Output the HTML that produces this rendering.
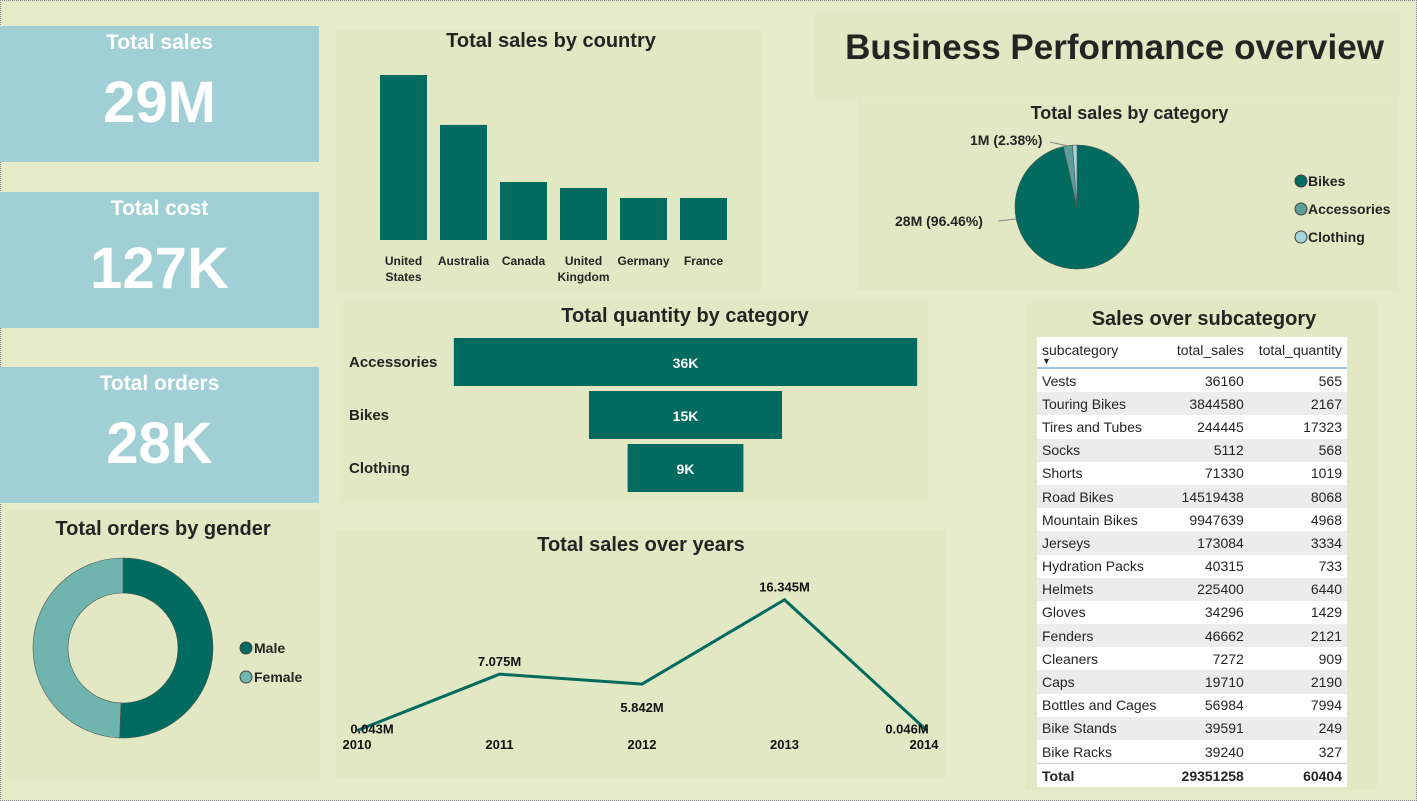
<!DOCTYPE html>
<html><head><meta charset="utf-8"><style>
body{margin:0;width:1417px;height:801px;background:#e6ebc9;font-family:"Liberation Sans",sans-serif;position:relative;overflow:hidden}
.a{position:absolute}
.panel{position:absolute;background:#e2e8c4}
.kpi{position:absolute;left:0;width:319px;height:136px;background:#a0d0d5;color:#fff;text-align:center;font-weight:bold}
.kpi .t{font-size:21px;margin-top:5px}
.kpi .v{font-size:58px;margin-top:14px}
.title{position:absolute;font-weight:bold;font-size:20px;color:#252423;text-align:center}
svg text{font-family:"Liberation Sans",sans-serif}
table{border-collapse:collapse;font-size:14px;color:#252423}
td{padding:0 5px;height:23.2px}
</style></head><body>
<div class="a" style="left:0;top:0;width:1415px;height:799px;border:1px dotted #888"></div>

<div class="kpi" style="top:26px"><div class="t">Total sales</div><div class="v">29M</div></div>
<div class="kpi" style="top:192px"><div class="t">Total cost</div><div class="v">127K</div></div>
<div class="kpi" style="top:367px"><div class="t">Total orders</div><div class="v">28K</div></div>

<div class="panel" style="left:815px;top:15px;width:585px;height:82px"></div>
<div class="a" style="left:822px;top:28px;width:585px;text-align:center;font-size:35px;font-weight:bold;color:#252423">Business Performance overview</div>

<div class="panel" style="left:336px;top:30px;width:425px;height:262px"></div>
<div class="title" style="left:336px;top:30px;width:430px">Total sales by country</div>
<svg class="a" id="country" style="left:0;top:0" width="800" height="300"></svg>

<div class="panel" style="left:857px;top:98px;width:540px;height:192px"></div>
<div class="title" style="left:857px;top:103px;width:545px;font-size:18px">Total sales by category</div>
<svg class="a" id="pie" style="left:850px;top:100px" width="560" height="200"></svg>

<div class="panel" style="left:340px;top:303px;width:588px;height:200px"></div>
<div class="title" style="left:340px;top:305px;width:690px">Total quantity by category</div>
<svg class="a" id="funnel" style="left:0;top:0" width="950" height="510"></svg>

<div class="panel" style="left:6px;top:510px;width:314px;height:270px"></div>
<div class="title" style="left:6px;top:518px;width:314px">Total orders by gender</div>
<svg class="a" id="donut" style="left:0;top:540px" width="330" height="230"></svg>

<div class="panel" style="left:336px;top:530px;width:610px;height:248px"></div>
<div class="title" style="left:336px;top:534px;width:610px">Total sales over years</div>
<svg class="a" id="line" style="left:0;top:0" width="960" height="800"></svg>

<div class="panel" style="left:1025px;top:303px;width:352px;height:487px"></div>
<div class="title" style="left:1025px;top:308px;width:358px">Sales over subcategory</div>
<div class="a" style="left:1037px;top:337px;width:310px;background:#fff">
<table id="tbl" style="width:310px"></table></div>

<script>
const NS="http://www.w3.org/2000/svg";
function mk(p,t,at,txt){const e=document.createElementNS(NS,t);for(const k in at)e.setAttribute(k,at[k]);if(txt!==undefined)e.textContent=txt;p.appendChild(e);return e;}
const teal="#006b5e";

const countries=["United States","Australia","Canada","United Kingdom","Germany","France"];
const countrySales=[9.39,6.55,3.3,2.96,2.39,2.39];
(function(){const s=document.getElementById('country');const base=240,k=17.57;
countries.forEach((c,i)=>{const x=380+i*60,h=countrySales[i]*k;
const r=mk(s,'rect',{x:x,y:base-h,width:47,height:h,fill:teal});

const w=c.split(' ');w.forEach((t,j)=>{const tx=mk(s,'text',{x:x+23.5,y:265+j*16,'text-anchor':'middle','font-size':12,'font-weight':'bold',fill:'#252423'},t);
});});})();

const pieCats=["Bikes","Accessories","Clothing"];
const pieVals=[96.46,2.38,1.16];
const pieColors=[teal,"#5e9f98","#a4d6da"];
(function(){const s=document.getElementById('pie');const cx=227,cy=107,r=62;let a=0;
const tot=pieVals.reduce((x,y)=>x+y,0);
pieVals.forEach((v,i)=>{const a0=a,a1=a+v/tot*2*Math.PI;a=a1;
const p=(t)=>[cx+r*Math.sin(t),cy-r*Math.cos(t)];const A=p(a0),B=p(a1);
const el=mk(s,'path',{d:`M${cx},${cy}L${A[0]},${A[1]}A${r},${r} 0 ${a1-a0>Math.PI?1:0} 1 ${B[0]},${B[1]}Z`,fill:pieColors[i],stroke:'#555','stroke-width':0.6});
});
const l1=mk(s,'text',{x:120,y:45,'font-size':14,'font-weight':'bold',fill:'#252423'},"1M (2.38%)");
mk(s,'line',{x1:200,y1:42,x2:218,y2:46,stroke:'#888'});
const l2=mk(s,'text',{x:45,y:126,'font-size':14,'font-weight':'bold',fill:'#252423'},"28M (96.46%)");
mk(s,'line',{x1:148,y1:121,x2:166,y2:119,stroke:'#888'});
pieCats.forEach((c,i)=>{const y=81+i*28;mk(s,'circle',{cx:451,cy:y,r:6,fill:pieColors[i],stroke:'#444','stroke-width':1});
const t=mk(s,'text',{x:458,y:y+5,'font-size':14,'font-weight':'bold',fill:'#252423'},c);});})();

const funnelCats=["Accessories","Bikes","Clothing"];
const funnelVals=[36,15,9];
(function(){const s=document.getElementById('funnel');const cx=685.5,k=12.87;
funnelCats.forEach((c,i)=>{const w=funnelVals[i]*k,y=338+i*53;
const r=mk(s,'rect',{x:cx-w/2,y:y,width:w,height:48,fill:teal});
mk(s,'text',{x:cx,y:y+30,'text-anchor':'middle','font-size':14,'font-weight':'bold',fill:'#fff'},funnelVals[i]+"K");
const t=mk(s,'text',{x:349,y:y+29,'font-size':15,'font-weight':'bold',fill:'#252423'},c);});})();

const genders=["Male","Female"];
const genderVals=[50.6,49.4];
const genderColors=[teal,"#70b4b0"];
(function(){const s=document.getElementById('donut');const cx=123,cy=108,R=90,r0=55;let a=0;const tot=genderVals.reduce((x,y)=>x+y,0);
genderVals.forEach((v,i)=>{const a0=a,a1=a+v/tot*2*Math.PI;a=a1;
const p=(t,rr)=>[cx+rr*Math.sin(t),cy-rr*Math.cos(t)];const A=p(a0,R),B=p(a1,R),C=p(a1,r0),D=p(a0,r0);const lg=a1-a0>Math.PI?1:0;
const el=mk(s,'path',{d:`M${A}A${R},${R} 0 ${lg} 1 ${B}L${C}A${r0},${r0} 0 ${lg} 0 ${D}Z`,fill:genderColors[i],stroke:'#555','stroke-width':0.6});
});
genders.forEach((g,i)=>{const y=108+i*29;mk(s,'circle',{cx:246,cy:y,r:6,fill:genderColors[i],stroke:'#444'});
const t=mk(s,'text',{x:254,y:y+5,'font-size':14,'font-weight':'bold',fill:'#252423'},g);});})();

const years=["2010","2011","2012","2013","2014"];
const yearSales=[0.043,7.075,5.842,16.345,0.046];
const yearLabels=["0.043M","7.075M","5.842M","16.345M","0.046M"];
(function(){const s=document.getElementById('line');const X=i=>357+i*142.5,Y=v=>731-v*8.03;
const pts=yearSales.map((v,i)=>X(i)+","+Y(v)).join(" ");
const pl=mk(s,'polyline',{points:pts,fill:'none',stroke:teal,'stroke-width':3});
const offs=[[15,-2],[0,-13],[0,23],[0,-13],[-20,-2]];
yearSales.forEach((v,i)=>{const t=mk(s,'text',{x:X(i)+offs[i][0],y:Y(v)+offs[i][1]+5,'text-anchor':'middle','font-size':13,'font-weight':'bold','font-family':'Liberation Mono',fill:'#111'},yearLabels[i]);

const ty=mk(s,'text',{x:X(i)+(i==4?-3:0),y:749,'text-anchor':'middle','font-size':13,'font-weight':'bold',fill:'#111'},years[i]);
});})();

const subcats=["Vests","Touring Bikes","Tires and Tubes","Socks","Shorts","Road Bikes","Mountain Bikes","Jerseys","Hydration Packs","Helmets","Gloves","Fenders","Cleaners","Caps","Bottles and Cages","Bike Stands","Bike Racks"];
const subSales=[36160,3844580,244445,5112,71330,14519438,9947639,173084,40315,225400,34296,46662,7272,19710,56984,39591,39240];
const subQty=[565,2167,17323,568,1019,8068,4968,3334,733,6440,1429,2121,909,2190,7994,249,327];
(function(){const t=document.getElementById('tbl');
let h='<tr style="height:31px;border-bottom:2px solid #9fc8e0;vertical-align:top"><td style="padding-top:5px">subcategory<br><span style="font-size:9px;line-height:6px;display:block">▼</span></td><td style="text-align:right;padding-top:5px">total_sales</td><td style="text-align:right;padding-top:5px">total_quantity</td></tr>';
subcats.forEach((c,i)=>{h+=`<tr style="background:${i%2?'#ececec':'#fff'}"><td>${c}</td><td style="text-align:right">${subSales[i]}</td><td style="text-align:right">${subQty[i]}</td></tr>`;});
h+=`<tr style="background:#fff;font-weight:bold;border-top:1px solid #ccc"><td>Total</td><td style="text-align:right">29351258</td><td style="text-align:right">60404</td></tr>`;
t.innerHTML=h;})();
</script>
</body></html>
